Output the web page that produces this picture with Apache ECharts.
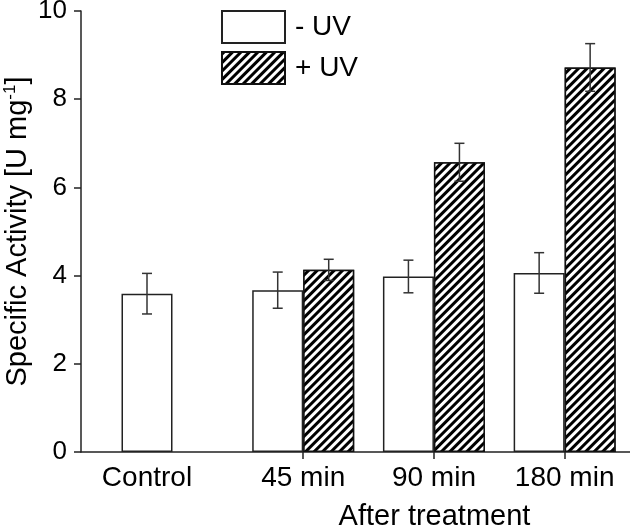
<!DOCTYPE html>
<html>
<head>
<meta charset="utf-8">
<script src="https://cdn.jsdelivr.net/npm/echarts@6/dist/echarts.min.js"></script>
<style>html,body{margin:0;padding:0;background:#fff}#c{width:630px;height:527px}</style>
</head>
<body>
<div id="c"></div>
<script>
var categories = ['Control', '45 min', '90 min', '180 min'];
var seriesNames = ['- UV', '+ UV'];
var minusUV = [3.59, 3.67, 3.98, 4.06];
var minusUVErr = [0.46, 0.41, 0.37, 0.46];
var plusUV = [null, 4.13, 6.57, 8.72];
var plusUVErr = [null, 0.24, 0.43, 0.54];
var yTicks = [0, 2, 4, 6, 8, 10];
var xAxisTitle = 'After treatment';

var FONT = 'Liberation Sans, Arial, sans-serif';
var BAR_W = 51;
var X_MIN = -0.7, X_MAX = 3.5, GRID_LEFT = 81, GRID_RIGHT = 0, W = 630;
var unitPx = (W - GRID_LEFT - GRID_RIGHT) / (X_MAX - X_MIN);
// Control has only the "- UV" bar: its label sits under that bar's centre
var labelPositions = categories.map(function (c, i) {
  return plusUV[i] === null ? i - (BAR_W / 2) / unitPx : i;
});
var tickPositions = categories.map(function (c, i) { return i; }).filter(function (i) { return plusUV[i] !== null; });

function pairs(vals) {
  var out = [];
  vals.forEach(function (v, i) { if (v !== null) out.push([i, v]); });
  return out;
}
function errData(vals, errs) {
  var out = [];
  vals.forEach(function (v, i) { if (v !== null) out.push([i, v - errs[i], v + errs[i]]); });
  return out;
}
function errRender(side) {
  return function (params, api) {
    var x = api.value(0);
    var lo = api.coord([x, api.value(1)]);
    var hi = api.coord([x, api.value(2)]);
    var cx = lo[0] + side * BAR_W / 2;
    var cap = 5;
    var st = { stroke: '#333', lineWidth: 1.5 };
    return { type: 'group', children: [
      { type: 'line', shape: { x1: cx, y1: lo[1], x2: cx, y2: hi[1] }, style: st },
      { type: 'line', shape: { x1: cx - cap, y1: lo[1], x2: cx + cap, y2: lo[1] }, style: st },
      { type: 'line', shape: { x1: cx - cap, y1: hi[1], x2: cx + cap, y2: hi[1] }, style: st }
    ]};
  };
}

var chart = echarts.init(document.getElementById('c'), null, { renderer: 'canvas' });
chart.setOption({
  animation: false,
  backgroundColor: '#fff',
  textStyle: { fontFamily: FONT },
  grid: { left: GRID_LEFT, right: GRID_RIGHT, top: 11, bottom: 75, containLabel: false, outerBoundsMode: 'none' },
  legend: {
    orient: 'vertical', left: 221, top: 10, padding: 0,
    icon: 'rect',
    itemWidth: 63, itemHeight: 32, itemGap: 7,
    data: seriesNames,
    textStyle: { fontSize: 28, color: '#000', fontFamily: FONT, padding: [0, 0, 0, 5] }
  },
  xAxis: {
    type: 'value', min: X_MIN, max: X_MAX,
    splitLine: { show: false },
    axisLine: { show: true, onZero: false, lineStyle: { color: '#222', width: 1.5 } },
    axisTick: { show: true, length: 7, customValues: tickPositions, lineStyle: { color: '#222', width: 1.5 } },
    axisLabel: {
      customValues: labelPositions, margin: 12, fontSize: 28, color: '#000', fontFamily: FONT,
      formatter: function (v) {
        var best = 0;
        labelPositions.forEach(function (p, i) { if (Math.abs(p - v) < Math.abs(labelPositions[best] - v)) best = i; });
        return categories[best];
      }
    },
    name: xAxisTitle, nameLocation: 'middle', nameGap: 50, nameMoveOverlap: false,
    nameTextStyle: { fontSize: 29, color: '#000', fontFamily: FONT, padding: [0, 0, 0, 158] }
  },
  yAxis: {
    type: 'value', min: yTicks[0], max: yTicks[yTicks.length - 1], interval: 2,
    splitLine: { show: false },
    axisLine: { show: true, onZero: false, lineStyle: { color: '#222', width: 1.5 } },
    axisTick: { show: true, length: 7, lineStyle: { color: '#222', width: 1.5 } },
    axisLabel: { margin: 14, fontSize: 26, color: '#000', fontFamily: FONT },
    name: 'Specific Activity [U mg{sup|-1}]', nameLocation: 'middle', nameGap: 48, nameRotate: 90,
    nameMoveOverlap: false,
    nameTextStyle: {
      fontSize: 29, color: '#000', fontFamily: FONT,
      rich: { sup: { fontSize: 17, verticalAlign: 'top', padding: [0, 0, 14, 0], color: '#000', fontFamily: FONT } }
    }
  },
  series: [
    {
      name: seriesNames[0], type: 'bar', barWidth: BAR_W, barGap: '0%',
      data: pairs(minusUV),
      itemStyle: { color: '#fff', borderColor: '#222', borderWidth: 1.5 }
    },
    {
      name: seriesNames[1], type: 'bar', barWidth: BAR_W, barGap: '0%',
      data: pairs(plusUV),
      itemStyle: {
        color: '#fff', borderColor: '#111', borderWidth: 1.5,
        decal: { symbol: 'rect', color: '#000', backgroundColor: '#fff', dashArrayX: [[1, 0]], dashArrayY: [2.2, 2.8], rotation: -Math.PI / 4, symbolSize: 1 }
      }
    },
    {
      type: 'custom', name: 'errMinus', renderItem: errRender(-1),
      data: errData(minusUV, minusUVErr), encode: { x: 0, y: [1, 2] }, z: 5, silent: true
    },
    {
      type: 'custom', name: 'errPlus', renderItem: errRender(1),
      data: errData(plusUV, plusUVErr), encode: { x: 0, y: [1, 2] }, z: 5, silent: true
    }
  ]
});
</script>
</body>
</html>
